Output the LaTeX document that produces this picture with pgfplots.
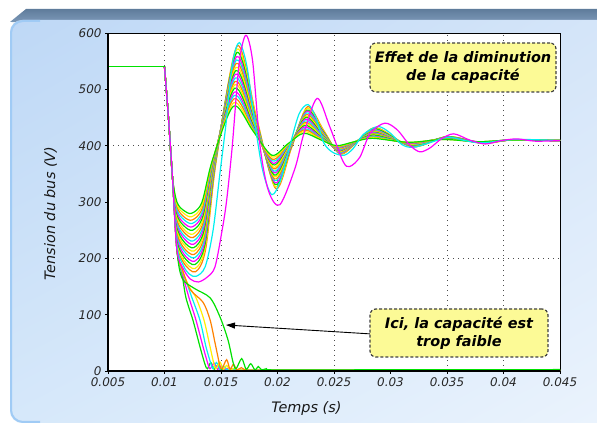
\documentclass[border=0pt]{standalone}
\usepackage{fontspec}
\setmainfont{DejaVu Sans}
\usepackage{pgfplots}
\pgfplotsset{compat=1.18}
\usetikzlibrary{arrows.meta,shadings}

\definecolor{cGrn}{RGB}{0,225,0}
\definecolor{cMag}{RGB}{255,0,255}
\definecolor{cCyn}{RGB}{0,240,240}
\definecolor{cYel}{RGB}{255,240,0}
\definecolor{cOra}{RGB}{255,130,0}
\definecolor{tabtop}{RGB}{95,124,155}
\definecolor{tabbot}{RGB}{128,156,188}
\definecolor{pUL}{RGB}{190,216,246}
\definecolor{pUR}{RGB}{214,230,249}
\definecolor{pLL}{RGB}{214,232,250}
\definecolor{pLR}{RGB}{236,244,253}
\definecolor{pEdge}{RGB}{160,203,245}
\definecolor{noteFill}{RGB}{252,250,150}

\begin{document}
\begin{tikzpicture}
\useasboundingbox (0,0) rectangle (597bp,425bp);
\fill[white] (0,0) rectangle (597bp,425bp);
% slide panel
\shade[top color=tabtop, bottom color=tabbot] (10bp,403bp) -- (26bp,416bp) -- (597bp,416bp) -- (597bp,401bp) -- cycle;
\shade[upper left=pUL, upper right=pUR, lower left=pLL, lower right=pLR, rounded corners=12bp] (10bp,2bp) rectangle (650bp,405bp);
\draw[pEdge, line width=2bp, rounded corners=12bp] (11bp,150bp) -- (11bp,3bp) -- (40bp,3bp);
\draw[pEdge, line width=2bp, rounded corners=12bp] (11bp,150bp) -- (11bp,404bp) -- (40bp,404bp);

\begin{axis}[
  name=ax,
  at={(108bp,54bp)}, anchor=south west,
  scale only axis, width=452bp, height=338bp,
  xmin=0.005, xmax=0.045, ymin=0, ymax=600,
  scaled x ticks=false, scaled y ticks=false,
  xtick={0.005,0.01,0.015,0.02,0.025,0.03,0.035,0.04,0.045},
  xticklabels={0.005,0.01,0.015,0.02,0.025,0.03,0.035,0.04,0.045},
  ytick={0,100,200,300,400,500,600},
  yticklabels={0,100,200,300,400,500,600},
  tick pos=left, tick align=outside, major tick length=3bp,
  tick style={black, line width=0.8bp},
  ticklabel style={font=\itshape\fontsize{12}{12}\selectfont, text=black!85},
  extra x ticks={0.01,0.015,0.02,0.025,0.035,0.04}, extra x tick labels={},
  extra y ticks={200,400}, extra y tick labels={},
  extra tick style={grid=major, major tick length=0pt},
  grid style={black!70, line width=0.8bp, dash pattern=on 1bp off 4bp},
  axis line style={black, line width=0.8bp},
  axis background/.style={fill=white},
  no markers,
  every axis plot/.append style={line width=1.2bp, smooth, tension=0.5},
]
% bulk of the curves (capacity decreasing)
\addplot[cOra] coordinates {(0.0100,540)(0.01035,450)(0.0107,345)(0.0111,228)(0.0117,192)(0.01274,176)(0.01364,216)(0.01459,375)(0.01644,577)(0.01814,450)(0.01984,324)(0.02124,396)(0.02264,469)(0.02409,427)(0.02554,385)(0.02714,408)(0.02874,432)(0.03194,398)(0.03504,416)(0.03814,404)(0.0407,410)(0.045,409)};
\addplot[cYel] coordinates {(0.0100,540)(0.01035,450)(0.0107,345)(0.0111,232)(0.0117,197)(0.01272,182)(0.01362,221)(0.01457,375)(0.01642,571)(0.01812,449)(0.01982,327)(0.02122,397)(0.02262,466)(0.02407,426)(0.02552,386)(0.02712,408)(0.02872,431)(0.03192,398)(0.03502,416)(0.03812,405)(0.0407,410)(0.045,409)};
\addplot[cGrn] coordinates {(0.0100,540)(0.01035,450)(0.0107,345)(0.0111,236)(0.0117,203)(0.0127,189)(0.0136,226)(0.01455,375)(0.0164,565)(0.0181,447)(0.0198,331)(0.0212,397)(0.0226,463)(0.02405,425)(0.0255,387)(0.0271,408)(0.0287,430)(0.0319,399)(0.0350,416)(0.0381,405)(0.0407,410)(0.045,409)};
\addplot[cMag] coordinates {(0.0100,540)(0.01035,450)(0.0107,345)(0.0111,241)(0.0117,208)(0.01268,195)(0.01358,231)(0.01453,375)(0.01638,558)(0.01808,446)(0.01978,334)(0.02118,397)(0.02258,461)(0.02403,424)(0.02548,387)(0.02708,408)(0.02868,428)(0.03188,399)(0.03498,415)(0.03808,405)(0.0407,410)(0.045,409)};
\addplot[cCyn] coordinates {(0.0100,540)(0.01035,450)(0.0107,345)(0.0111,245)(0.0117,214)(0.01266,201)(0.01356,236)(0.01451,375)(0.01636,552)(0.01806,445)(0.01976,338)(0.02116,398)(0.02256,458)(0.02401,423)(0.02546,388)(0.02706,408)(0.02866,427)(0.03186,400)(0.03496,415)(0.03806,405)(0.0407,410)(0.045,409)};
\addplot[cOra] coordinates {(0.0100,540)(0.01035,450)(0.0107,345)(0.0111,249)(0.0117,219)(0.01264,207)(0.01354,241)(0.01449,375)(0.01634,546)(0.01804,443)(0.01974,341)(0.02114,398)(0.02254,455)(0.02399,422)(0.02544,389)(0.02704,408)(0.02864,426)(0.03184,400)(0.03494,415)(0.03804,405)(0.0407,410)(0.045,409)};
\addplot[cYel] coordinates {(0.0100,540)(0.01035,450)(0.0107,345)(0.0111,253)(0.0117,225)(0.01262,213)(0.01352,246)(0.01447,375)(0.01632,539)(0.01802,442)(0.01972,345)(0.02112,398)(0.02252,452)(0.02397,421)(0.02542,390)(0.02702,408)(0.02862,425)(0.03182,401)(0.03492,414)(0.03802,405)(0.0407,410)(0.045,409)};
\addplot[cGrn] coordinates {(0.0100,540)(0.01035,450)(0.0107,345)(0.0111,258)(0.0117,230)(0.0126,219)(0.0135,250)(0.01445,375)(0.0163,533)(0.0180,440)(0.0197,348)(0.0211,399)(0.0225,450)(0.02395,420)(0.0254,391)(0.0270,408)(0.0286,424)(0.0318,401)(0.0349,414)(0.0380,406)(0.0407,410)(0.045,409)};
\addplot[cMag] coordinates {(0.0100,540)(0.01035,450)(0.0107,345)(0.0111,262)(0.0117,236)(0.01258,225)(0.01348,255)(0.01443,375)(0.01628,527)(0.01798,439)(0.01968,352)(0.02108,399)(0.02248,447)(0.02393,419)(0.02538,392)(0.02698,407)(0.02858,423)(0.03178,402)(0.03488,414)(0.03798,406)(0.0407,410)(0.045,409)};
\addplot[cCyn] coordinates {(0.0100,540)(0.01035,450)(0.0107,345)(0.0111,266)(0.0117,241)(0.01256,231)(0.01346,260)(0.01441,375)(0.01626,520)(0.01796,438)(0.01966,355)(0.02106,399)(0.02246,444)(0.02391,418)(0.02536,393)(0.02696,407)(0.02856,422)(0.03176,402)(0.03486,413)(0.03796,406)(0.0407,410)(0.045,409)};
\addplot[cOra] coordinates {(0.0100,540)(0.01035,450)(0.0107,345)(0.0111,270)(0.0117,247)(0.01254,237)(0.01344,265)(0.01439,375)(0.01624,514)(0.01794,436)(0.01964,359)(0.02104,400)(0.02244,441)(0.02389,417)(0.02534,394)(0.02694,407)(0.02854,421)(0.03174,403)(0.03484,413)(0.03794,406)(0.0407,410)(0.045,409)};
\addplot[cYel] coordinates {(0.0100,540)(0.01035,450)(0.0107,345)(0.0111,275)(0.0117,252)(0.01252,243)(0.01342,270)(0.01437,375)(0.01622,508)(0.01792,435)(0.01962,362)(0.02102,400)(0.02242,439)(0.02387,417)(0.02532,395)(0.02692,407)(0.02852,420)(0.03172,403)(0.03482,413)(0.03792,406)(0.0407,410)(0.045,409)};
\addplot[cGrn] coordinates {(0.0100,540)(0.01035,450)(0.0107,345)(0.0111,279)(0.0117,258)(0.0125,250)(0.0134,275)(0.01435,375)(0.0162,502)(0.0179,434)(0.0196,366)(0.0210,401)(0.0224,436)(0.02385,416)(0.0253,396)(0.0269,407)(0.0285,419)(0.0317,404)(0.0348,413)(0.0379,406)(0.0407,410)(0.045,409)};
\addplot[cMag] coordinates {(0.0100,540)(0.01035,450)(0.0107,345)(0.0111,283)(0.0117,263)(0.01248,256)(0.01338,280)(0.01433,375)(0.01618,495)(0.01788,432)(0.01958,369)(0.02098,401)(0.02238,433)(0.02383,415)(0.02528,396)(0.02688,407)(0.02848,417)(0.03168,404)(0.03478,412)(0.03788,406)(0.0407,410)(0.045,409)};
\addplot[cCyn] coordinates {(0.0100,540)(0.01035,450)(0.0107,345)(0.0111,287)(0.0117,269)(0.01246,262)(0.01336,284)(0.01431,375)(0.01616,489)(0.01786,431)(0.01956,373)(0.02096,401)(0.02236,430)(0.02381,414)(0.02526,397)(0.02686,407)(0.02846,416)(0.03166,405)(0.03476,412)(0.03786,407)(0.0407,410)(0.045,409)};
\addplot[cOra] coordinates {(0.0100,540)(0.01035,450)(0.0107,345)(0.0111,292)(0.0117,274)(0.01244,268)(0.01334,289)(0.01429,375)(0.01614,483)(0.01784,429)(0.01954,376)(0.02094,402)(0.02234,428)(0.02379,413)(0.02524,398)(0.02684,407)(0.02844,415)(0.03164,405)(0.03474,412)(0.03784,407)(0.0407,410)(0.045,409)};
\addplot[cYel] coordinates {(0.0100,540)(0.01035,450)(0.0107,345)(0.0111,296)(0.0117,280)(0.01242,274)(0.01332,294)(0.01427,375)(0.01612,476)(0.01782,428)(0.01952,380)(0.02092,402)(0.02232,425)(0.02377,412)(0.02522,399)(0.02682,407)(0.02842,414)(0.03162,406)(0.03472,411)(0.03782,407)(0.0407,410)(0.045,409)};
\addplot[cGrn] coordinates {(0.0100,540)(0.01035,450)(0.0107,345)(0.0111,300)(0.0117,285)(0.01240,280)(0.01330,299)(0.01425,375)(0.01610,470)(0.01780,427)(0.01950,383)(0.02090,403)(0.02230,422)(0.02375,411)(0.02520,400)(0.02680,407)(0.02840,413)(0.03160,406)(0.03470,411)(0.03780,407)(0.0407,410)(0.045,409)};
% collapsing curves (capacity too small)
\addplot[cGrn] coordinates {(0.0100,540)(0.01035,450)(0.0107,345)(0.0111,215)(0.01155,172)(0.0119,130)(0.01252,90)(0.01314,43)(0.01358,12)(0.0138,4)(0.0141,15)(0.0144,3)(0.0147,10)(0.0150,2)(0.0154,6)(0.0158,2)(0.0200,1.5)(0.045,1.5)};
\addplot[cMag] coordinates {(0.0100,540)(0.01035,450)(0.0107,345)(0.0111,215)(0.01155,175)(0.01217,130)(0.01279,90)(0.01341,43)(0.01385,12)(0.01403,4)(0.0144,14)(0.0147,3)(0.0150,9)(0.0153,2)(0.0157,5)(0.0162,2)(0.0200,1.5)(0.045,1.5)};
\addplot[cCyn] coordinates {(0.0100,540)(0.01035,450)(0.0107,345)(0.0111,215)(0.01155,178)(0.01199,155)(0.01243,130)(0.01314,90)(0.01367,43)(0.01412,12)(0.01429,4)(0.0146,15)(0.0149,3)(0.0152,9)(0.0155,2)(0.0159,5)(0.0164,2)(0.0200,1.5)(0.045,1.5)};
\addplot[cYel] coordinates {(0.0100,540)(0.01035,450)(0.0107,345)(0.0111,215)(0.01155,180)(0.01217,150)(0.01279,130)(0.0135,90)(0.01403,43)(0.01438,12)(0.01456,4)(0.0149,16)(0.0152,3)(0.0155,10)(0.0158,2)(0.0162,5)(0.0167,2)(0.0200,1.5)(0.045,1.5)};
\addplot[cOra] coordinates {(0.0100,540)(0.01035,450)(0.0107,345)(0.0111,215)(0.01155,182)(0.01226,145)(0.01341,122)(0.01403,91)(0.01447,50)(0.01473,25)(0.01491,8)(0.0151,4)(0.0155,20)(0.0158,3)(0.0161,12)(0.0164,2)(0.0168,6)(0.0173,2)(0.0200,1.5)(0.045,1.5)};
\addplot[cGrn] coordinates {(0.0100,540)(0.01035,450)(0.0107,345)(0.0111,215)(0.01155,165)(0.01261,147)(0.01403,130)(0.01491,96)(0.01562,55)(0.01606,16)(0.01633,4)(0.01683,22)(0.01723,3)(0.01763,13)(0.0180,2)(0.0183,8)(0.0186,2)(0.0190,4)(0.0195,2)(0.0250,2)(0.045,2.5)};
% outermost curves
\addplot[cCyn] coordinates {(0.0100,540)(0.01035,450)(0.0107,345)(0.0111,222)(0.0117,186)(0.0122,172)(0.0128,168)(0.0136,185)(0.0143,250)(0.0149,350)(0.01545,440)(0.0160,545)(0.01662,583)(0.0173,540)(0.0180,440)(0.0187,355)(0.0195,313)(0.0203,340)(0.0211,400)(0.0219,456)(0.0227,473)(0.0234,450)(0.0241,405)(0.0249,388)(0.0259,383)(0.0267,395)(0.0276,420)(0.0289,434)(0.0300,422)(0.0310,402)(0.0320,397)(0.0336,406)(0.0351,415)(0.0366,409)(0.0381,405)(0.0410,411)(0.045,409)};
\addplot[cMag] coordinates {(0.0100,540)(0.01035,450)(0.0107,345)(0.0111,215)(0.0117,180)(0.0123,163)(0.0130,158)(0.0138,167)(0.01447,185)(0.0151,250)(0.0155,303)(0.0160,400)(0.0166,545)(0.0172,596)(0.0178,550)(0.01845,400)(0.0192,320)(0.0202,295)(0.02155,360)(0.0223,419)(0.0235,484)(0.0246,435)(0.0258,372)(0.0264,363)(0.0273,380)(0.0282,422)(0.0295,440)(0.0306,428)(0.0317,401)(0.0326,389)(0.0335,396)(0.0345,412)(0.0356,421)(0.0370,410)(0.0384,403)(0.0398,409)(0.0412,412)(0.0428,408)(0.045,409)};
% steady state before the step
\addplot[cGrn] coordinates {(0.005,540)(0.0100,540)};
\end{axis}

\draw[black, line width=2.6bp] (ax.north west) -- (ax.south west) -- (ax.south east);

\node[rotate=90, anchor=base, font=\itshape\fontsize{14.5}{17}\selectfont, text=black!90] at (55bp,211.5bp) {Tension du bus (V)};
\node[anchor=base, font=\itshape\fontsize{14.5}{17}\selectfont, text=black!90] at (306.5bp,13bp) {Temps (s)};

\draw[black, line width=0.9bp, -{Triangle[length=9bp,width=6bp]}] (372bp,91bp) -- (226bp,100bp);
\node[draw=black!75, fill=noteFill, line width=1.2bp, dash pattern=on 3bp off 2bp, rounded corners=6bp,
      minimum width=186bp, minimum height=49bp, align=center, inner sep=0pt,
      font=\bfseries\itshape\fontsize{14.5}{18}\selectfont] at (463bp,357.5bp) {Effet de la diminution\\de la capacité};
\node[draw=black!75, fill=noteFill, line width=1.2bp, dash pattern=on 3bp off 2bp, rounded corners=6bp,
      minimum width=178bp, minimum height=48bp, align=center, inner sep=0pt,
      font=\bfseries\itshape\fontsize{14.5}{18}\selectfont] at (459bp,92bp) {Ici, la capacité est\\trop faible};
\end{tikzpicture}
\end{document}
